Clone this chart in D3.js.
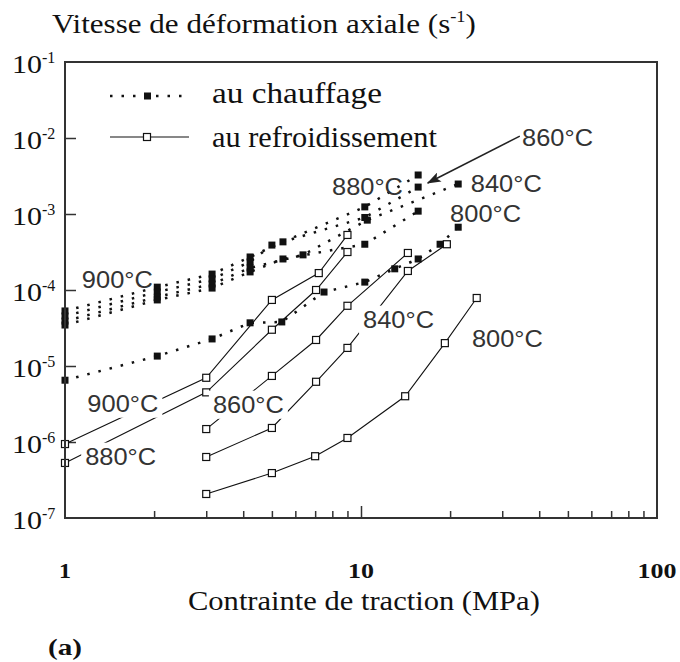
<!DOCTYPE html>
<html><head><meta charset="utf-8">
<script src="https://cdn.jsdelivr.net/npm/d3@7"></script>
<style>
body{margin:0;background:#fff}
.serif{font-family:"Liberation Serif","Times New Roman",Times,serif}
.sans{font-family:"Liberation Sans",Arial,Helvetica,sans-serif}
</style>
</head><body>
<svg id="c" width="680" height="662"></svg>
<script>
// ---------- data ----------
// heating ("au chauffage"), filled squares, dotted lines
const h860_x = [1, 2.05, 3.14, 4.22, 5.45, 10.3, 15.6];
const h860_y = [5.3e-5, 1.09e-4, 1.62e-4, 2.72e-4, 4.3e-4, 1.24e-3, 3.26e-3];
const h880_x = [1, 2.05, 3.14, 4.22, 5.0, 10.3, 15.6];
const h880_y = [4.55e-5, 9.4e-5, 1.4e-4, 2.34e-4, 3.9e-4, 9.0e-4, 2.26e-3];
const h840_x = [1, 2.05, 3.14, 4.22, 6.37, 10.5, 21.3];
const h840_y = [3.9e-5, 8.1e-5, 1.2e-4, 1.95e-4, 2.9e-4, 8.3e-4, 2.48e-3];
const h900_x = [1, 2.05, 3.14, 4.22, 5.45, 10.3, 15.6];
const h900_y = [3.46e-5, 7.4e-5, 1.06e-4, 1.73e-4, 2.56e-4, 4.0e-4, 1.09e-3];
const h800_x = [1, 2.05, 3.14, 4.22, 5.4, 7.5, 10.3, 13.0, 15.6, 18.5, 21.3];
const h800_y = [6.5e-6, 1.35e-5, 2.27e-5, 3.7e-5, 3.8e-5, 9.4e-5, 1.27e-4, 1.9e-4, 2.56e-4, 4.0e-4, 6.7e-4];
// cooling ("au refroidissement"), open squares, solid lines
const c900_x = [1, 3, 5, 7.2, 9];
const c900_y = [9.4e-7, 7.0e-6, 7.4e-5, 1.67e-4, 5.3e-4];
const c880_x = [1, 3, 5, 7.05, 9];
const c880_y = [5.3e-7, 4.5e-6, 3.0e-5, 1.0e-4, 3.16e-4];
const c860_x = [3, 5, 7.05, 9, 14.4];
const c860_y = [1.48e-6, 7.4e-6, 2.2e-5, 6.2e-5, 3.07e-4];
const c840_x = [3, 5, 7.05, 9, 14.4, 19.5];
const c840_y = [6.35e-7, 1.53e-6, 6.2e-6, 1.73e-5, 1.78e-4, 4.0e-4];
const c800_x = [3, 5, 7, 9, 14.1, 19.2, 24.6];
const c800_y = [2.07e-7, 3.9e-7, 6.5e-7, 1.13e-6, 4.0e-6, 2.0e-5, 7.85e-5];

// axis ticks / labels
const xLabelValues = [1, 10, 100];
const xLabels = ["1", "10", "100"];
const xMinorTicks = [2,3,4,5,6,7,8,9,20,30,40,50,60,70,80,90];
const xMajorTicks = [10];
const yTickValues = [1e-1, 1e-2, 1e-3, 1e-4, 1e-5, 1e-6, 1e-7];
const yTickExps = ["-1", "-2", "-3", "-4", "-5", "-6", "-7"];
const yInnerTicks = [1e-2, 1e-3, 1e-4, 1e-5, 1e-6];

// annotations: [text, x value, y value] (left/baseline anchor)
const heatLabels = [["900°C", 1.14, 1.06e-4], ["880°C", 7.98, 1.78e-3], ["840°C", 23.5, 1.95e-3], ["800°C", 20.0, 7.86e-4], ["860°C", 35.0, 7.86e-3]];
const coolLabels = [["900°C", 1.19, 2.49e-6], ["880°C", 1.17, 4.98e-7], ["860°C", 3.16, 2.41e-6], ["840°C", 10.16, 3.16e-5], ["800°C", 23.7, 1.78e-5]];
const arrowFrom = [34.4, 1.06e-2], arrowTo = [16.8, 2.56e-3];

const titleText = "Vitesse de déformation axiale (s";
const xTitle = "Contrainte de traction (MPa)";
const legendTexts = ["au chauffage", "au refroidissement"];

// ---------- chart ----------
const svg = d3.select("#c");
svg.append("rect").attr("width", 680).attr("height", 662).attr("fill", "#fff");

const x = d3.scaleLog().domain([1, 100]).range([65, 657]);
const y = d3.scaleLog().domain([1e-7, 1e-1]).range([518, 62]);

const defs = svg.append("defs");
defs.append("marker").attr("id", "ah").attr("markerUnits", "userSpaceOnUse")
  .attr("markerWidth", 14).attr("markerHeight", 10).attr("refX", 13).attr("refY", 5)
  .attr("orient", "auto")
  .append("path").attr("d", "M0,0 L14,5 L0,10 L3,5 Z").attr("fill", "#222");

function fitText(parent, x0, y0, build, targetW) {
  const g = parent.append("g");
  const t = g.append("text").attr("x", 0).attr("y", 0);
  build(t);
  const w = t.node().getBBox().width;
  const s = targetW ? targetW / w : 1;
  g.attr("transform", `translate(${x0},${y0}) scale(${s},1)`);
  return g;
}

// ticks
const styleTicks = g => { g.select(".domain").remove(); g.selectAll("line").attr("stroke", "#333").attr("stroke-width", 1.5); };
svg.append("g").attr("transform", "translate(0,518)")
  .call(d3.axisBottom(x).tickValues(xMinorTicks).tickSize(-7).tickFormat("")).call(styleTicks);
svg.append("g").attr("transform", "translate(0,518)")
  .call(d3.axisBottom(x).tickValues(xMajorTicks).tickSize(-12).tickFormat("")).call(styleTicks);
svg.append("g").attr("transform", "translate(65,0)")
  .call(d3.axisLeft(y).tickValues(yInnerTicks).tickSize(-11).tickFormat("")).call(styleTicks);

// series
const line = d3.line().x(d => x(d[0])).y(d => y(d[1]));
const zip = (a, b) => a.map((v, i) => [v, b[i]]);
const heating = [zip(h860_x, h860_y), zip(h880_x, h880_y), zip(h840_x, h840_y), zip(h900_x, h900_y), zip(h800_x, h800_y)];
const cooling = [zip(c900_x, c900_y), zip(c880_x, c880_y), zip(c860_x, c860_y), zip(c840_x, c840_y), zip(c800_x, c800_y)];

const plot = svg.append("g");
cooling.forEach(s => plot.append("path").attr("d", line(s)).attr("fill", "none")
  .attr("stroke", "#111").attr("stroke-width", 1.1));
heating.forEach(s => plot.append("path").attr("d", line(s)).attr("fill", "none")
  .attr("stroke", "#111").attr("stroke-width", 2.5).attr("stroke-dasharray", "2.5 9"));
cooling.forEach(s => plot.selectAll(null).data(s).enter().append("rect")
  .attr("x", d => x(d[0]) - 3.5).attr("y", d => y(d[1]) - 3.5).attr("width", 7).attr("height", 7)
  .attr("fill", "#fff").attr("stroke", "#111").attr("stroke-width", 1.2));
heating.forEach(s => plot.selectAll(null).data(s).enter().append("rect")
  .attr("x", d => x(d[0]) - 3.5).attr("y", d => y(d[1]) - 3.5).attr("width", 7).attr("height", 7)
  .attr("fill", "#111"));

// annotations
function tempLabel(d, halo) {
  const g = fitText(svg, x(d[1]), y(d[2]), t => t.text(d[0]).attr("class", "sans")
    .attr("font-size", 24).attr("fill", "#333"), 71);
  if (halo) {
    const bb = g.node().getBBox();
    const sx = 71 / g.select("text").node().getBBox().width;
    g.insert("rect", "text").attr("x", bb.x - 4 / sx).attr("y", bb.y - 1).attr("width", bb.width + 8 / sx)
      .attr("height", bb.height + 2).attr("fill", "#fff");
  }
}
heatLabels.forEach(d => tempLabel(d, false));
coolLabels.forEach(d => tempLabel(d, true));
svg.append("line").attr("x1", x(arrowFrom[0])).attr("y1", y(arrowFrom[1]))
  .attr("x2", x(arrowTo[0])).attr("y2", y(arrowTo[1]))
  .attr("stroke", "#222").attr("stroke-width", 1.5).attr("marker-end", "url(#ah)");

// frame
svg.append("rect").attr("x", 65).attr("y", 62).attr("width", 592).attr("height", 456)
  .attr("fill", "none").attr("stroke", "#333").attr("stroke-width", 2);

// legend
svg.append("line").attr("x1", 110).attr("x2", 189).attr("y1", 96).attr("y2", 96)
  .attr("stroke", "#111").attr("stroke-width", 2.5).attr("stroke-dasharray", "2.5 9");
svg.append("rect").attr("x", 144).attr("y", 92.5).attr("width", 7).attr("height", 7).attr("fill", "#111");
svg.append("line").attr("x1", 110).attr("x2", 189).attr("y1", 137).attr("y2", 137)
  .attr("stroke", "#111").attr("stroke-width", 1.1);
svg.append("rect").attr("x", 143.5).attr("y", 133.5).attr("width", 7).attr("height", 7)
  .attr("fill", "#fff").attr("stroke", "#111").attr("stroke-width", 1.2);
fitText(svg, 212, 103, t => t.text(legendTexts[0]).attr("class", "serif").attr("font-size", 29).attr("fill", "#111"), 170);
fitText(svg, 212, 147, t => t.text(legendTexts[1]).attr("class", "serif").attr("font-size", 29).attr("fill", "#111"), 225);

// y labels
yTickValues.forEach((v, i) => {
  fitText(svg, 12, y(v) + 11, t => t.text("10").attr("class", "serif").attr("font-size", 26).attr("fill", "#111"), 30);
  svg.append("text").attr("x", 42).attr("y", y(v) + 1).text(yTickExps[i])
    .attr("class", "serif").attr("font-size", 16).attr("fill", "#111");
});
// x labels
const xLabW = [12, 26, 39];
xLabelValues.forEach((v, i) => {
  fitText(svg, x(v) - xLabW[i] / 2, 578, t => t.text(xLabels[i]).attr("class", "serif")
    .attr("font-size", 21).attr("font-weight", "bold").attr("fill", "#111"), xLabW[i]);
});
// titles
fitText(svg, 52, 33, t => {
  t.attr("class", "serif").attr("font-size", 27).attr("fill", "#111");
  t.append("tspan").text(titleText);
  t.append("tspan").attr("font-size", 16).attr("dy", -11).text("-1");
  t.append("tspan").attr("dy", 11).text(")");
}, 424);
fitText(svg, 188, 610, t => t.text(xTitle).attr("class", "serif").attr("font-size", 26.5).attr("fill", "#111"), 352);
fitText(svg, 48, 655, t => t.text("(a)").attr("class", "serif").attr("font-size", 24)
  .attr("font-weight", "bold").attr("fill", "#111"), 34);
</script>
</body></html>
